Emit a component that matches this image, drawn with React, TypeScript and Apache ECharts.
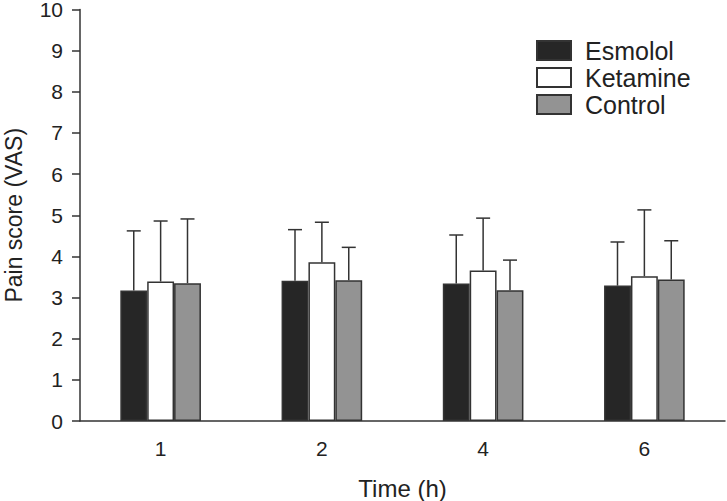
import React, { useEffect, useRef } from "react";
import * as echarts from "echarts";

const categories = ["1", "2", "4", "6"];
const seriesNames = ["Esmolol", "Ketamine", "Control"];
const esmololMean = [3.17, 3.41, 3.34, 3.29];
const ketamineMean = [3.39, 3.86, 3.66, 3.52];
const controlMean = [3.35, 3.42, 3.18, 3.44];
const esmololUpper = [4.62, 4.65, 4.52, 4.35];
const ketamineUpper = [4.86, 4.83, 4.93, 5.13];
const controlUpper = [4.91, 4.22, 3.91, 4.38];
const yTicks = [0, 1, 2, 3, 4, 5, 6, 7, 8, 9, 10];

const colors = ["#262626", "#ffffff", "#939393"];
const means = [esmololMean, ketamineMean, controlMean];
const uppers = [esmololUpper, ketamineUpper, controlUpper];

export default function App() {
  const ref = useRef<HTMLDivElement>(null);
  useEffect(() => {
    if (!ref.current) return;
    const chart = echarts.init(ref.current, null, { renderer: "svg" });
    const font = "'Liberation Sans', Arial, sans-serif";
    const barSeries = seriesNames.map((name, i) => ({
      name,
      type: "bar",
      data: means[i],
      barGap: "0%",
      barCategoryGap: "50%",
      itemStyle: { color: colors[i], borderColor: "#333", borderWidth: 1.5 },
    }));
    const errData: number[][] = [];
    for (let s = 0; s < 3; s++) {
      for (let c = 0; c < categories.length; c++) {
        errData.push([c, means[s][c], uppers[s][c], s]);
      }
    }
    const errSeries = {
      type: "custom",
      data: errData,
      z: 5,
      renderItem: (params: any, api: any) => {
        const c = api.value(0);
        const m = api.value(1);
        const u = api.value(2);
        const s = api.value(3);
        const center = api.coord([c, 0])[0];
        const band = api.size([1, 0])[0];
        const bw = (band * 0.5) / 3;
        const x = center + (s - 1) * bw;
        const yb = api.coord([c, m])[1];
        const yt = api.coord([c, u])[1];
        const style = { stroke: "#333", lineWidth: 1.5 };
        return {
          type: "group",
          children: [
            { type: "line", shape: { x1: x, y1: yb, x2: x, y2: yt }, style },
            { type: "line", shape: { x1: x - 7, y1: yt, x2: x + 7, y2: yt }, style },
          ],
        };
      },
    };
    chart.setOption({
      animation: false,
      grid: { left: 80, right: 2, top: 9.5, bottom: 80, containLabel: false, outerBoundsMode: "none" },
      legend: {
        data: seriesNames,
        orient: "vertical",
        left: 531,
        top: 33,
        icon: "rect",
        itemWidth: 34,
        itemHeight: 19,
        itemGap: 2,
        textStyle: { fontSize: 25, color: "#222", fontFamily: font, padding: [0, 0, 0, 9] },
      },
      xAxis: {
        type: "category",
        data: categories,
        name: "Time (h)",
        nameLocation: "middle",
        nameGap: 55,
        nameTextStyle: { fontSize: 24, color: "#222", fontFamily: font },
        axisLine: { lineStyle: { color: "#333", width: 1.5 } },
        axisTick: { length: 8, lineStyle: { color: "#333", width: 1.5 } },
        axisLabel: { fontSize: 21, color: "#222", fontFamily: font, margin: 17 },
      },
      yAxis: {
        type: "value",
        min: yTicks[0],
        max: yTicks[yTicks.length - 1],
        interval: 1,
        name: "Pain score (VAS)",
        nameLocation: "middle",
        nameGap: 54,
        nameTextStyle: { fontSize: 23, lineHeight: 24, color: "#222", fontFamily: font },
        splitLine: { show: false },
        axisLine: { show: true, lineStyle: { color: "#333", width: 1.5 } },
        axisTick: { show: true, length: 8, lineStyle: { color: "#333", width: 1.5 } },
        axisLabel: { fontSize: 21, lineHeight: 18, color: "#222", fontFamily: font, margin: 17 },
      },
      series: [...barSeries, errSeries],
    });
    return () => chart.dispose();
  }, []);
  return <div ref={ref} style={{ width: 727, height: 501, position: "absolute", left: 0, top: 0 }} />;
}
